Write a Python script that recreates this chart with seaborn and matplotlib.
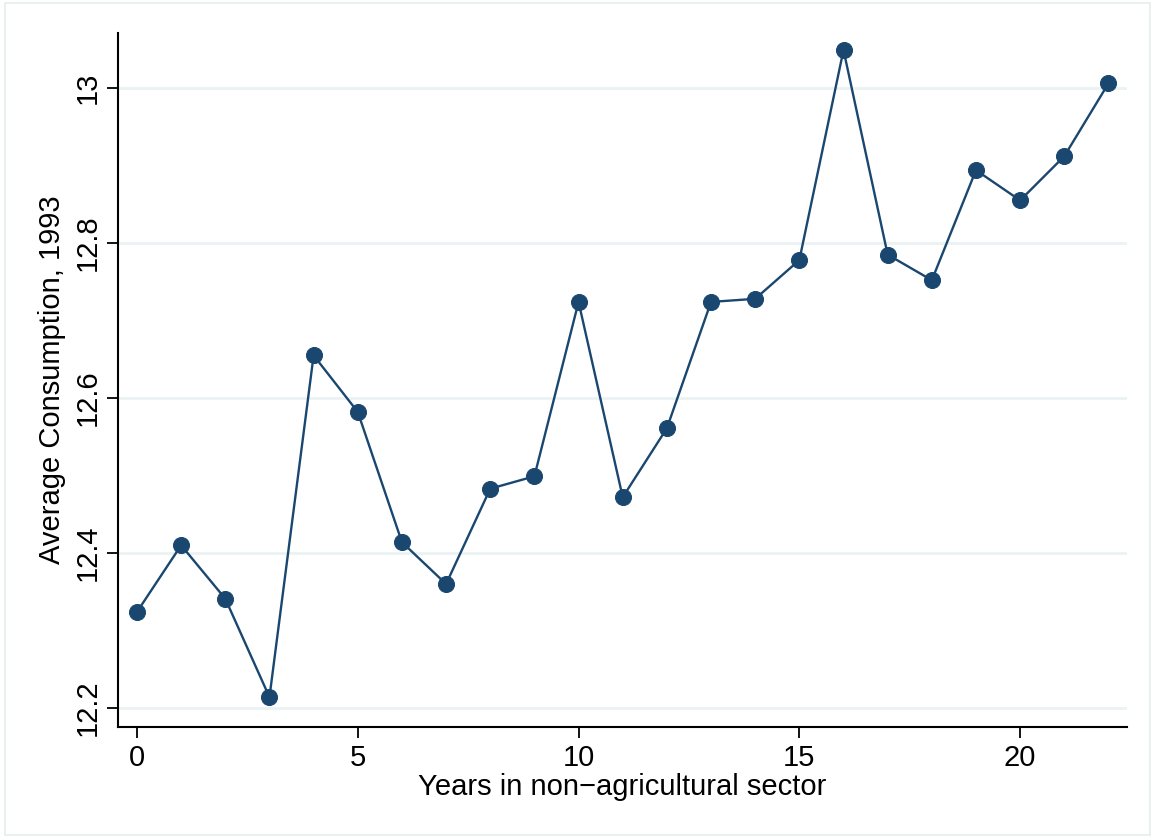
import matplotlib
matplotlib.use("Agg")
import matplotlib.pyplot as plt
import seaborn as sns
import pandas as pd

# Average consumption by years spent in the non-agricultural sector
years = list(range(23))
consumption = [12.324, 12.410, 12.341, 12.214, 12.655, 12.582, 12.414, 12.360,
               12.483, 12.499, 12.724, 12.472, 12.561, 12.724, 12.728, 12.778,
               13.049, 12.785, 12.752, 12.894, 12.855, 12.912, 13.006]
x_ticks = [0, 5, 10, 15, 20]
y_ticks = [12.2, 12.4, 12.6, 12.8, 13.0]
y_tick_labels = ["12.2", "12.4", "12.6", "12.8", "13"]

df = pd.DataFrame({"years": years, "consumption": consumption})

sns.set_style("white")
plt.rcParams["font.family"] = ["Liberation Sans", "DejaVu Sans"]
plt.rcParams["text.color"] = "black"
plt.rcParams["axes.labelcolor"] = "black"
plt.rcParams["xtick.color"] = "black"
plt.rcParams["ytick.color"] = "black"

navy = "#1a476f"

fig = plt.figure(figsize=(11.55, 8.39), dpi=100)
ax = fig.add_axes([118 / 1155, 1 - 727 / 839, (1127 - 118) / 1155, (727 - 33) / 839])

sns.lineplot(data=df, x="years", y="consumption", ax=ax, color=navy,
             linewidth=1.7, marker="o", markersize=11.5, markeredgecolor=navy,
             markerfacecolor=navy, zorder=3)

ax.set_xlim(-0.43, 22.42)
ax.set_ylim(12.1755, 13.071)
ax.set_xticks(x_ticks)
ax.set_xticklabels([str(t) for t in x_ticks], fontsize=21)
ax.set_yticks(y_ticks)
ax.set_yticklabels(y_tick_labels, fontsize=21, rotation=90, va="center")

for y in y_ticks:
    ax.axhline(y, color="#eaf2f3", linewidth=2, zorder=1)

for side in ("top", "right"):
    ax.spines[side].set_visible(False)
for side in ("left", "bottom"):
    ax.spines[side].set_color("black")
    ax.spines[side].set_linewidth(1.5)

ax.tick_params(axis="both", which="major", direction="out", length=8, width=1.3,
               color="black", labelcolor="black", left=True, bottom=True, pad=4)

ax.set_xlabel("Years in non\u2212agricultural sector", fontsize=21, labelpad=1,
              color="black")
ax.set_ylabel("Average Consumption, 1993", fontsize=21, labelpad=5, color="black")

# Light frame around the graph region
frame = plt.Rectangle((5 / 1155, 1 - 835 / 839), 1145 / 1155, 832 / 839,
                      transform=fig.transFigure, fill=False,
                      edgecolor="#e6ecec", linewidth=1.2)
fig.patches.append(frame)

fig.savefig("out.png", dpi=100)
